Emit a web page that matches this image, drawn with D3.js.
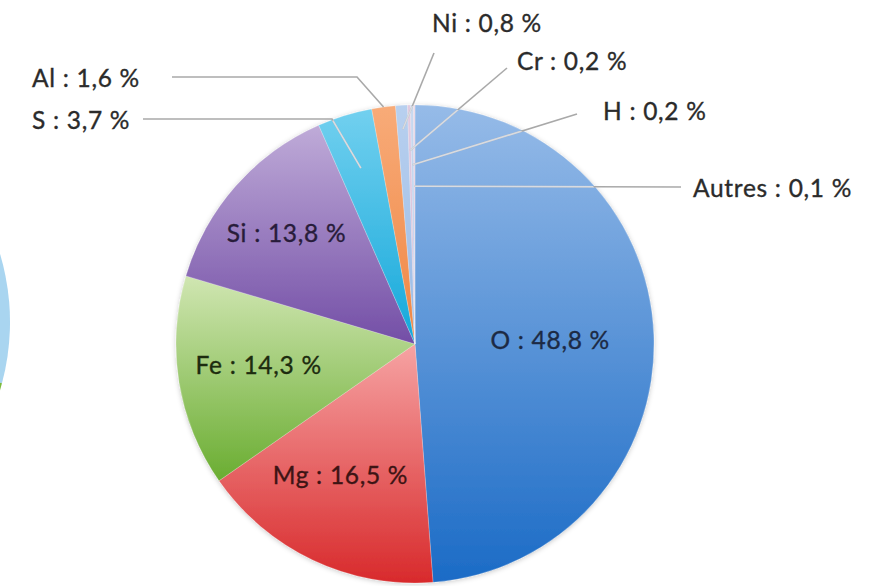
<!DOCTYPE html>
<html>
<head>
<meta charset="utf-8">
<script src="https://cdn.jsdelivr.net/npm/d3@7"></script>
<style>
  html, body { margin: 0; padding: 0; background: #ffffff; }
  svg { display: block; }
  text { font-family: Lato, "Open Sans", sans-serif; letter-spacing: 0.7px; }
</style>
</head>
<body>
<svg id="chart" width="887" height="586"></svg>
<script>
// ---- data ----
const elements = ["O", "Mg", "Fe", "Si", "S", "Al", "Ni", "Cr", "H", "Autres"];
const percents = [48.8, 16.5, 14.3, 13.8, 3.7, 1.6, 0.8, 0.2, 0.2, 0.1];
const percentLabels = ["48,8", "16,5", "14,3", "13,8", "3,7", "1,6", "0,8", "0,2", "0,2", "0,1"];
const insideLabels = ["O", "Mg", "Fe", "Si"];

// ---- styles ----
const gradTop = {
  O: "#96bbe8", Mg: "#f6a3a3", Fe: "#d0e6b2", Si: "#bfabd8", S: "#72d0ef",
  Al: "#f8ab78", Ni: "#b8d0ef", Cr: "#e2cbe0", H: "#c9d9f0", Autres: "#ecd6e4"
};
const gradBot = {
  O: "#1b6bc6", Mg: "#d82a2c", Fe: "#6aad31", Si: "#734ea6", S: "#14a8da",
  Al: "#ef8644", Ni: "#9bbbe6", Cr: "#d4b9d6", H: "#b6cbec", Autres: "#dcc2d6"
};
const insideColor = { O: "#1c2a44", Mg: "#3d1414", Fe: "#1d2c0f", Si: "#281c3a" };
const FS = 24.5;

const svg = d3.select("#chart");
const cx = 415, cy = 344, R = 239;

const defs = svg.append("defs");
elements.forEach(e => {
  const lg = defs.append("linearGradient").attr("id", "g-" + e)
    .attr("x1", 0).attr("y1", 0).attr("x2", 0).attr("y2", 1);
  lg.append("stop").attr("offset", "0%").attr("stop-color", gradTop[e]);
  lg.append("stop").attr("offset", "100%").attr("stop-color", gradBot[e]);
});
const flt = defs.append("filter").attr("id", "shadow")
  .attr("x", "-10%").attr("y", "-10%").attr("width", "120%").attr("height", "120%");
flt.append("feDropShadow").attr("dx", 0).attr("dy", 1).attr("stdDeviation", 2.5)
  .attr("flood-color", "#000").attr("flood-opacity", 0.22);
defs.append("clipPath").attr("id", "pieClip")
  .append("circle").attr("cx", cx).attr("cy", cy).attr("r", R - 1);

// partial neighbouring pie at the left edge (cut off in the original)
const nb = svg.append("g").attr("transform", "translate(-228,322)");
nb.append("path").attr("d", d3.arc().innerRadius(0).outerRadius(238)
  .startAngle(0).endAngle(Math.PI * 0.583)()).attr("fill", "#a9d5f0");
nb.append("path").attr("d", d3.arc().innerRadius(0).outerRadius(238)
  .startAngle(Math.PI * 0.583).endAngle(Math.PI * 0.75)()).attr("fill", "#7cba3c");

const data = elements.map((e, i) => ({ name: e, value: percents[i], label: percentLabels[i] }));
const pie = d3.pie().value(d => d.value).sort(null);
const arcs = pie(data);
const arc = d3.arc().innerRadius(0).outerRadius(R);

const pieG = svg.append("g").attr("transform", `translate(${cx},${cy})`);
const slices = pieG.append("g").attr("filter", "url(#shadow)");
slices.selectAll("path").data(arcs).join("path")
  .attr("d", arc)
  .attr("fill", d => `url(#g-${d.data.name})`)
  .attr("stroke", "rgba(255,255,255,0.35)")
  .attr("stroke-width", 0.6);

// outside labels with leader lines (layout in page coordinates)
const outside = {
  Al:     { tx: 32,  ty: 77,  line: [[172, 77], [357, 77]],  r: 1.0 },
  S:      { tx: 32,  ty: 119, line: [[143, 119], [332, 119]], r: 0.77 },
  Ni:     { tx: 432, ty: 22,  line: [[434, 53]],  r: 0.9 },
  Cr:     { tx: 517, ty: 60,  line: [[507, 68]],  r: 0.81 },
  H:      { tx: 603, ty: 110, line: [[577, 114]], r: 0.75 },
  Autres: { tx: 693, ty: 187, line: [[681, 187]], r: 0.66 }
};
const lineLayer = svg.append("g");
const lineInner = svg.append("g").attr("clip-path", "url(#pieClip)");
const labelLayer = svg.append("g");
arcs.filter(d => outside[d.data.name]).forEach(d => {
  const o = outside[d.data.name];
  const mid = (d.startAngle + d.endAngle) / 2;
  const ex = cx + Math.sin(mid) * R * o.r;
  const ey = cy - Math.cos(mid) * R * o.r;
  const pts = o.line.concat([[ex, ey]]);
  lineLayer.append("path").attr("d", d3.line()(pts))
    .attr("fill", "none").attr("stroke", "#a9a9a9").attr("stroke-width", 1.6);
  lineInner.append("path").attr("d", d3.line()(pts))
    .attr("fill", "none").attr("stroke", "rgba(225,228,235,0.85)").attr("stroke-width", 1.6);
  labelLayer.append("text").attr("x", o.tx).attr("y", o.ty)
    .attr("text-anchor", "start").attr("dominant-baseline", "central")
    .attr("font-size", FS).attr("fill", "#2b2b2b")
    .attr("stroke", "#2b2b2b").attr("stroke-width", 0.35)
    .text(`${d.data.name} : ${d.data.label} %`);
});

// inside labels
const labelArc = d3.arc().innerRadius(0).outerRadius(R * 1.3);
const insideOffset = { O: [-20, 1], Mg: [-8, -10], Fe: [-3, -4], Si: [-12, -9] };
pieG.selectAll("text.in").data(arcs.filter(d => insideLabels.includes(d.data.name))).join("text")
  .attr("class", "in")
  .attr("x", d => labelArc.centroid(d)[0] + insideOffset[d.data.name][0])
  .attr("y", d => labelArc.centroid(d)[1] + insideOffset[d.data.name][1])
  .attr("text-anchor", "middle").attr("dominant-baseline", "central")
  .attr("font-size", FS)
  .attr("fill", d => insideColor[d.data.name])
  .attr("stroke", d => insideColor[d.data.name]).attr("stroke-width", 0.35)
  .text(d => `${d.data.name} : ${d.data.label} %`);
</script>
</body>
</html>
